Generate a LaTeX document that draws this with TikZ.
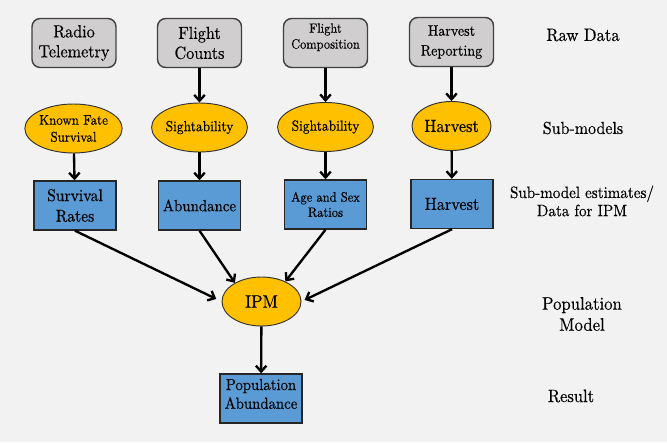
\documentclass[tikz,border=0pt]{standalone}
\usepackage{fontspec}
\setmainfont{lmroman10-regular.otf}[FakeStretch=0.92,FakeBold=0.35]
\usetikzlibrary{shapes.geometric,arrows.meta}
\definecolor{bggray}{HTML}{F2F2F2}
\definecolor{rawgray}{HTML}{D0CECE}
\definecolor{subgold}{HTML}{FFC000}
\definecolor{estblue}{HTML}{5B9BD5}

\tikzset{
  rawbox/.style={draw=black!75, line width=1.2pt, fill=rawgray, rounded corners=7pt,
    minimum width=2.52cm, minimum height=1.47cm, inner sep=0pt, align=center},
  subell/.style={ellipse, draw=black!80, line width=0.8pt, fill=subgold,
    minimum width=2.37cm, minimum height=1.47cm, inner sep=0pt, align=center},
  estbox/.style={draw=black!85, line width=1.2pt, fill=estblue,
    minimum width=2.46cm, minimum height=1.47cm, inner sep=0pt, align=center},
  lvl/.style={align=center, inner sep=0pt},
  arr/.style={-{Straight Barb[length=5pt,width=9pt]}, line width=2pt},
}

\begin{document}
\begin{tikzpicture}[x=0.03cm,y=-0.03cm]
  %背景
  \fill[bggray] (0,0) rectangle (667,442);
  \useasboundingbox (0,0) rectangle (667,442);

  %生データ
  \node[rawbox, font=\fontsize{15}{17}\selectfont] (rt) at (74,43) {Radio\\Telemetry};
  \node[rawbox, font=\fontsize{15}{17}\selectfont] (fc) at (199.5,43) {Flight\\Counts};
  \node[rawbox, font=\fontsize{11.5}{13.5}\selectfont, text depth=12pt] (fcp) at (325.5,43) {Flight\\Composition};
  \node[rawbox, font=\fontsize{13}{17}\selectfont] (hr) at (451.5,42) {Harvest\\Reporting};

  %サブモデル
  \node[subell, font=\fontsize{12}{14.5}\selectfont] (kfs) at (73.5,128.5) {Known Fate\\Survival};
  \node[subell, font=\fontsize{12.5}{14}\selectfont] (sgta) at (199.5,127.5) {Sightability};
  \node[subell, font=\fontsize{12.5}{14}\selectfont] (sgtb) at (325.5,127) {Sightability};
  \node[subell, font=\fontsize{15}{17}\selectfont] (hvs) at (451.5,126) {Harvest};

  %推定値
  \node[estbox, font=\fontsize{14.5}{17.5}\selectfont] (sr) at (75,205.5) {Survival\\Rates};
  \node[estbox, font=\fontsize{13.8}{16}\selectfont] (ab) at (199.5,205.5) {Abundance};
  \node[estbox, font=\fontsize{11.6}{13}\selectfont] (asr) at (325.5,204.5) {Age and Sex\\Ratios};
  \node[estbox, font=\fontsize{15}{17}\selectfont] (hvb) at (452,204) {Harvest};

  %IPMと結果
  \node[subell, font=\fontsize{15.5}{17}\selectfont] (ipm) at (261.5,301.5) {IPM};
  \node[estbox, font=\fontsize{13.7}{16}\selectfont, text depth=8pt] (pa) at (261,398.5) {Population\\Abundance};

  %矢印
  \draw[arr] (fc) -- (sgta);
  \draw[arr] (fcp) -- (sgtb);
  \draw[arr] (hr) -- (hvs);
  \draw[arr] (kfs) -- (sr);
  \draw[arr] (sgta) -- (ab);
  \draw[arr] (sgtb) -- (asr);
  \draw[arr] (hvs) -- (hvb);
  \draw[arr, shorten >=5pt] (sr.south) -- (ipm.west);
  \draw[arr] (ab.south) -- (ipm.145);
  \draw[arr] (asr.south) -- (ipm.40);
  \draw[arr, shorten >=3pt] (hvb.south) -- (ipm.east);
  \draw[arr] (ipm) -- (pa);

  %右側の見出し
  \node[lvl, font=\fontsize{15.4}{18}\selectfont] (lraw) at (583,35) {Raw Data};
  \node[lvl, font=\fontsize{14.8}{18}\selectfont] (lsub) at (583,128) {Sub-models};
  \node[lvl, font=\fontsize{14}{15.5}\selectfont] (lest) at (582,201) {Sub-model estimates/\\Data for IPM};
  \node[lvl, font=\fontsize{15.5}{18}\selectfont] (lpop) at (582,314) {Population\\Model};
  \node[lvl, font=\fontsize{15.3}{18}\selectfont] (lres) at (571,396) {Result};
\end{tikzpicture}
\end{document}
